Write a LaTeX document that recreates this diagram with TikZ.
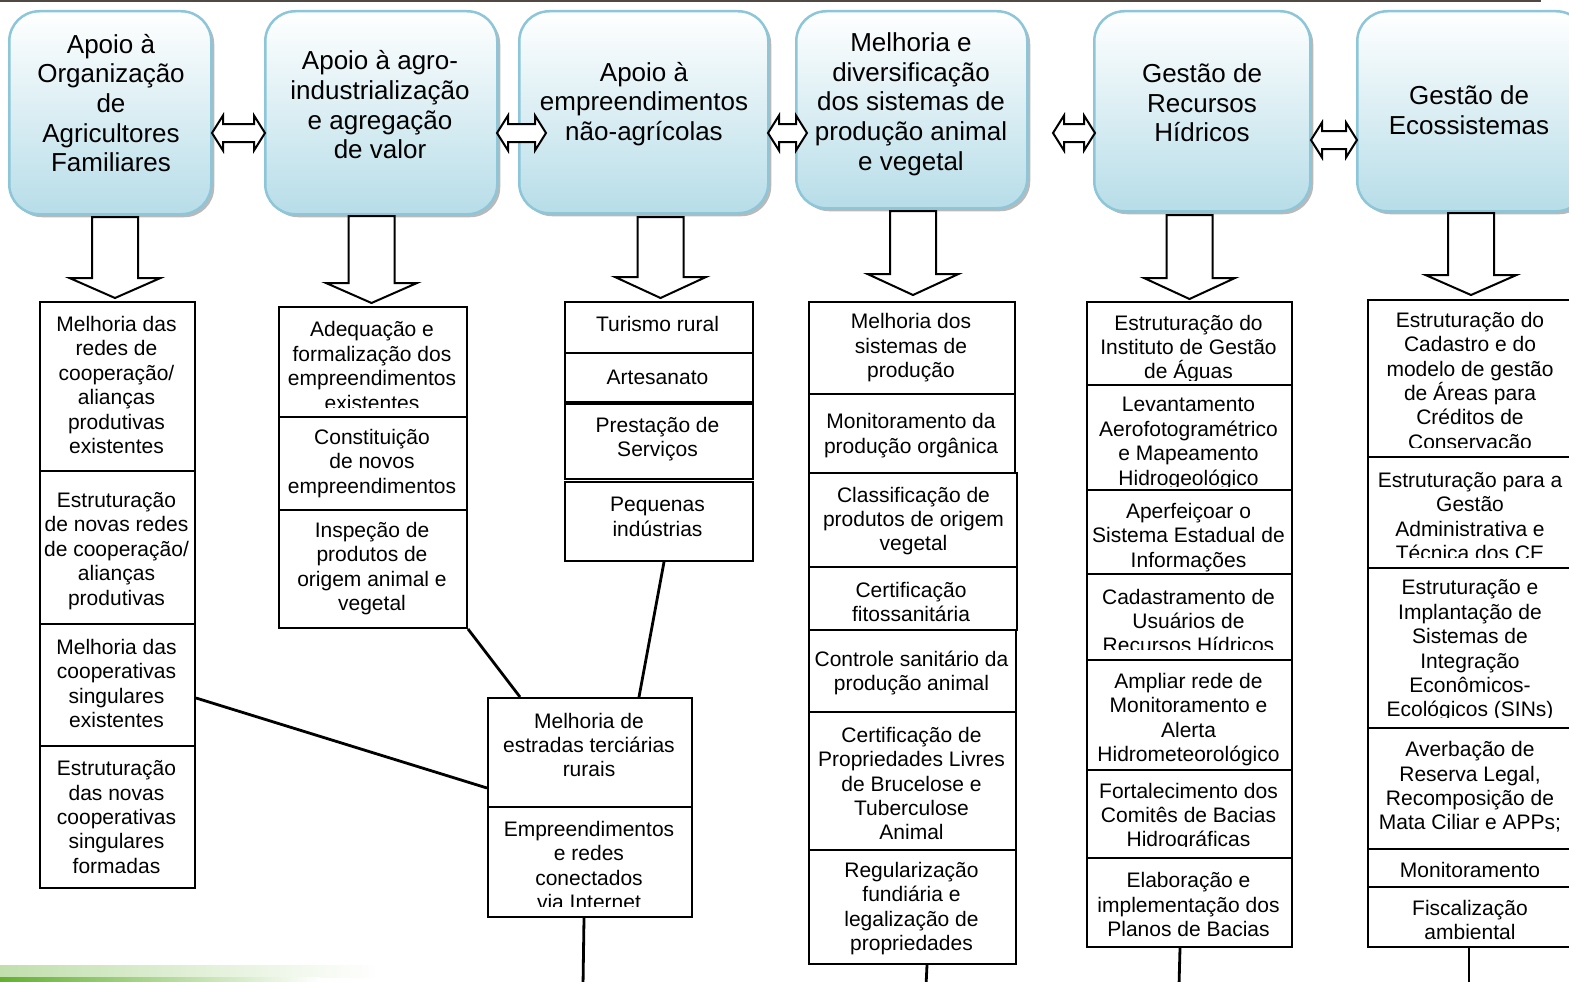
\documentclass[tikz,border=0pt]{standalone}
\usepackage{fontspec}
\setmainfont{Liberation Sans}
\usetikzlibrary{shadows,calc}
\definecolor{hdrblue}{RGB}{183,221,232}
\definecolor{hdrline}{RGB}{140,198,216}
\definecolor{toplinecol}{RGB}{80,72,66}
\definecolor{leafgreen}{RGB}{100,175,50}
\tikzset{
 hdr/.style={draw=hdrline, line width=2.5pt, rounded corners=30pt, top color=white, bottom color=hdrblue,
   drop shadow={shadow xshift=3pt, shadow yshift=-3pt, fill=black!50, opacity=0.55}, anchor=north west, inner sep=0pt},
 htext/.style={font=\fontsize{26}{29.7}\selectfont, align=center, inner sep=0pt},
 sbox/.style={draw=black, line width=2pt, fill=white, anchor=north west, inner sep=0pt},
 stext/.style={font=\fontsize{21}{24.4}\selectfont, align=center, inner sep=0pt, yshift=-2pt},
 blockarrow/.style={draw=black, line width=2pt, fill=white, line join=miter},
 link/.style={draw=black, line width=2.8pt},
}
\newcommand\mybox[5]{\node[sbox, minimum width=#4pt, minimum height=#5pt] (#1) at (#2,#3) {};}
% name, box, absolute clip y, x, y, text
\newcommand\cliptext[6]{\begin{scope}\coordinate (#1cut) at (0,#3);
  \clip (#2.north west) rectangle (#2.east |- #1cut);
  \node[stext] (#1) at (#4,#5) {#6};\end{scope}}
\newcommand\dnarrow[4]{\draw[blockarrow] (#1-23,#2) -- (#1+23,#2) -- (#1+23,#3) -- (#1+45.5,#3) -- (#1,#4)
  -- (#1-45.5,#3) -- (#1-23,#3) -- cycle;}
\newcommand\dblarrow[3]{\draw[blockarrow] (#1,#3) -- (#1+11,#3-17.5) -- (#1+11,#3-9) -- (#2-11,#3-9)
  -- (#2-11,#3-17.5) -- (#2,#3) -- (#2-11,#3+17.5) -- (#2-11,#3+9) -- (#1+11,#3+9) -- (#1+11,#3+17.5) -- cycle;}
\begin{document}
\begin{tikzpicture}[x=1pt,y=-1pt]
\useasboundingbox (0,0) rectangle (1569,982);
% top rule and green corner
\draw[toplinecol, line width=2.5pt] (0,1) -- (1541,1);
\shade[left color=leafgreen!40, right color=white] (0,965) rectangle (380,977);
\shade[left color=leafgreen, right color=white] (0,977) rectangle (320,983);

% headers
\node[hdr, minimum width=202pt, minimum height=203pt] (h1) at (8,10) {};
\node[hdr, minimum width=232pt, minimum height=203pt] (h2) at (264,10) {};
\node[hdr, minimum width=249pt, minimum height=202pt] (h3) at (518,10) {};
\node[hdr, minimum width=231pt, minimum height=197pt] (h4) at (795,10) {};
\node[hdr, minimum width=216pt, minimum height=200pt] (h5) at (1093,10) {};
\node[hdr, minimum width=229pt, minimum height=200pt] (h6) at (1356,10) {};
\node[htext] (h1t) at (111,103) {Apoio à\\Organização\\de\\Agricultores\\Familiares};
\node[htext] (h2t) at (380,105) {Apoio à agro-\\industrialização\\e agregação\\de valor};
\node[htext] (h3t) at (644,104) {Apoio à\\empreendimentos\\não-agrícolas};
\node[htext] (h4t) at (911,104) {Melhoria e\\diversificação\\dos sistemas de\\produção animal\\e vegetal};
\node[htext] (h5t) at (1202,103) {Gestão de\\Recursos\\Hídricos};
\node[htext] (h6t) at (1469,110) {Gestão de\\Ecossistemas};

% double arrows
\dblarrow{212}{265}{133}
\dblarrow{497}{546}{133}
\dblarrow{768}{807}{133}
\dblarrow{1053}{1095}{133}
\dblarrow{1311}{1357}{140}

% down arrows
\dnarrow{115}{217}{278}{298}
\dnarrow{371.5}{216}{283}{303}
\dnarrow{660.5}{217}{277}{298}
\dnarrow{913}{211}{274}{295}
\dnarrow{1189.5}{215}{278}{299}
\dnarrow{1471}{213}{275}{295}

% column 1
\mybox{c1a}{39}{301}{155}{169}
\mybox{c1b}{39}{470}{155}{153}
\mybox{c1c}{39}{623}{155}{122}
\mybox{c1d}{39}{745}{155}{142}
\node[stext] (c1at) at (116.5,383) {Melhoria das\\redes de\\cooperação/\\alianças\\produtivas\\existentes};
\node[stext] (c1bt) at (116.5,549) {Estruturação\\de novas redes\\de cooperação/\\alianças\\produtivas};
\node[stext] (c1ct) at (116.5,681.5) {Melhoria das\\cooperativas\\singulares\\existentes};
\node[stext] (c1dt) at (116.5,815) {Estruturação\\das novas\\cooperativas\\singulares\\formadas};

% column 2
\mybox{c2a}{278}{306}{188}{110}
\mybox{c2b}{278}{416}{188}{93}
\mybox{c2c}{278}{509}{188}{118}
\cliptext{c2at}{c2a}{407}{372}{364}{Adequação e\\formalização dos\\empreendimentos\\existentes}
\node[stext] (c2bt) at (372,461.5) {Constituição\\de novos\\empreendimentos};
\node[stext] (c2ct) at (372,566.5) {Inspeção de\\produtos de\\origem animal e\\vegetal};

% column 3
\mybox{c3a}{564}{301}{188}{51}
\mybox{c3b}{564}{352}{188}{49}
\mybox{c3c}{564}{403}{188}{75}
\mybox{c3d}{564}{481}{188}{79}
\node[stext] (c3at) at (657.5,322) {Turismo rural};
\node[stext] (c3bt) at (657.5,375) {Artesanato};
\node[stext] (c3ct) at (657.5,437) {Prestação de\\Serviços};
\node[stext] (c3dt) at (657.5,515) {Pequenas\\indústrias};

% shared column
\mybox{e1}{487}{697}{204}{109}
\mybox{e2}{487}{806}{204}{110}
\node[stext] (e1t) at (589,743) {Melhoria de\\estradas terciárias\\rurais};
\cliptext{e2t}{e2}{906}{589}{863.5}{Empreendimentos\\e redes\\conectados\\via Internet}

% column 4
\mybox{c4a}{808}{301}{206}{92}
\mybox{c4b}{808}{393}{206}{79}
\mybox{c4c}{808}{472}{208}{94}
\mybox{c4d}{808}{566}{208}{63}
\mybox{c4e}{808}{629}{207}{82}
\mybox{c4f}{808}{711}{207}{138}
\mybox{c4g}{808}{849}{207}{114}
\node[stext] (c4at) at (911,346) {Melhoria dos\\sistemas de\\produção};
\node[stext] (c4bt) at (911,433.5) {Monitoramento da\\produção orgânica};
\node[stext] (c4ct) at (913.5,519) {Classificação de\\produtos de origem\\vegetal};
\node[stext] (c4dt) at (911,600) {Certificação\\fitossanitária};
\node[stext] (c4et) at (911.5,671) {Controle sanitário da\\produção animal};
\node[stext] (c4ft) at (911.5,781.5) {Certificação de\\Propriedades Livres\\de Brucelose e\\Tuberculose\\Animal};
\node[stext] (c4gt) at (911.5,906.5) {Regularização\\fundiária e\\legalização de\\propriedades};

% column 5
\mybox{c5a}{1086}{301}{205}{83}
\mybox{c5b}{1086}{384}{205}{105}
\mybox{c5c}{1086}{489}{205}{84}
\mybox{c5d}{1086}{573}{205}{86}
\mybox{c5e}{1086}{659}{205}{110}
\mybox{c5f}{1086}{769}{205}{88}
\mybox{c5g}{1086}{857}{205}{89}
\cliptext{c5at}{c5a}{380}{1188.5}{347}{Estruturação do\\Instituto de Gestão\\de Águas}
\cliptext{c5bt}{c5b}{486}{1188.5}{441.5}{Levantamento\\Aerofotogramétrico\\e Mapeamento\\Hidrogeológico}
\node[stext] (c5ct) at (1188.5,535.3) {Aperfeiçoar o\\Sistema Estadual de\\Informações};
\cliptext{c5dt}{c5d}{649}{1188.5}{619}{Cadastramento de\\Usuários de\\Recursos Hídricos}
\node[stext] (c5et) at (1188.5,717.5) {Ampliar rede de\\Monitoramento e\\Alerta\\Hidrometeorológico};
\cliptext{c5ft}{c5f}{846}{1188.5}{815}{Fortalecimento dos\\Comitês de Bacias\\Hidrográficas}
\node[stext] (c5gt) at (1188.5,902.5) {Elaboração e\\implementação dos\\Planos de Bacias};

% column 6
\mybox{c6a}{1367}{299}{206}{157}
\mybox{c6b}{1367}{456}{206}{111}
\mybox{c6c}{1367}{567}{206}{160}
\mybox{c6d}{1367}{727}{206}{121}
\mybox{c6e}{1367}{848}{206}{38}
\mybox{c6f}{1367}{886}{206}{60}
\cliptext{c6at}{c6a}{447}{1470}{381}{Estruturação do\\Cadastro e do\\modelo de gestão\\de Áreas para\\Créditos de\\Conservação}
\cliptext{c6bt}{c6b}{557}{1470}{514.5}{Estruturação para a\\Gestão\\Administrativa e\\Técnica dos CE}
\cliptext{c6ct}{c6c}{717}{1470}{648.5}{Estruturação e\\Implantação de\\Sistemas de\\Integração\\Econômicos-\\Ecológicos (SINs)}
\node[stext] (c6dt) at (1470,785) {Averbação de\\Reserva Legal,\\Recomposição de\\Mata Ciliar e APPs;};
\node[stext] (c6et) at (1470,868) {Monitoramento};
\node[stext] (c6ft) at (1470,918) {Fiscalização\\ambiental};

% connectors
\coordinate (b1) at (583,986);
\coordinate (b2) at (926,986);
\coordinate (b3) at (1179,986);
\coordinate (b4) at (1469,986);
\draw[link] ([yshift=-13pt]c1c.east) -- ([yshift=-35.5pt]e1.west);
\draw[link] (c2c.south east) -- ([xshift=-70pt]e1.north);
\draw[link] ([xshift=5pt]c3d.south) -- ([xshift=49pt]e1.north);
\draw[link] ([xshift=-6pt]e2.south) -- (b1);
\draw[link] ([xshift=14.5pt]c4g.south) -- (b2);
\draw[link] ([xshift=-9.5pt]c5g.south) -- (b3);
\draw[link] ([xshift=-2pt]c6f.south) -- (b4);
\end{tikzpicture}
\end{document}
